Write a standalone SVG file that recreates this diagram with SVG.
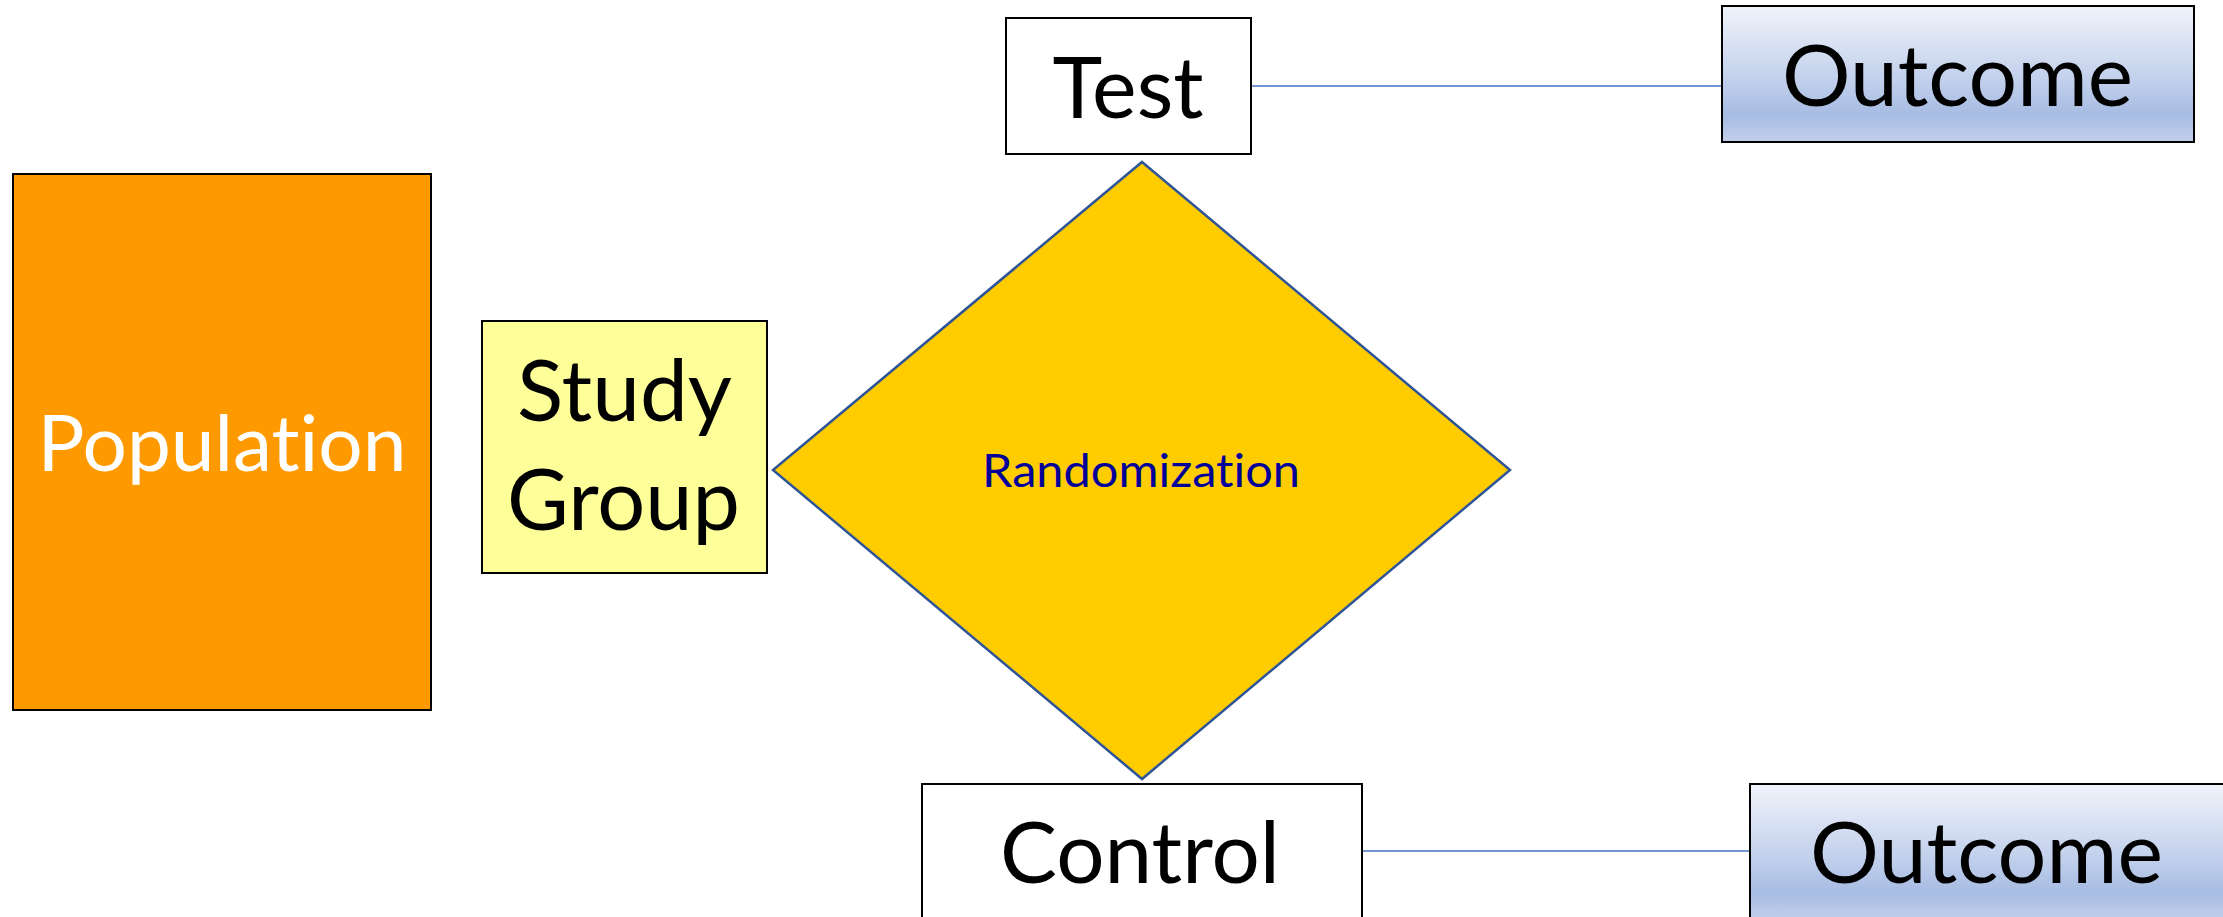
<svg xmlns="http://www.w3.org/2000/svg" width="2223" height="917" viewBox="0 0 2223 917">
  <defs>
    <linearGradient id="outcomeGrad" x1="0" y1="0" x2="0" y2="1">
      <stop offset="0" stop-color="#F0F3FA"/>
      <stop offset="0.5" stop-color="#C6D3ED"/>
      <stop offset="0.8" stop-color="#A7BCE3"/>
      <stop offset="1" stop-color="#C1CFEB"/>
    </linearGradient>
    <style>
      .box { stroke: #000000; stroke-width: 2; }
      .lbl { font-family: Lato, "Open Sans", "Liberation Sans", sans-serif; font-size: 86px; fill: #000000; text-anchor: middle; font-variant-ligatures: none; font-feature-settings: "liga" 0, "clig" 0; }
      .conn { stroke: #4472C4; stroke-width: 1.5; fill: none; }
    </style>
  </defs>
  <rect width="2223" height="917" fill="#FFFFFF"/>
  <g id="connectors">
    <line class="conn" x1="1251" y1="86" x2="1722" y2="86"/>
    <line class="conn" x1="1362" y1="851" x2="1750" y2="851"/>
  </g>
  <g id="population">
    <rect class="box" x="13" y="174" width="418" height="536" fill="#FF9900"/>
    <text class="lbl" x="222" y="471" style="fill:#FFFFFF;font-size:78px" textLength="369" lengthAdjust="spacingAndGlyphs">Population</text>
  </g>
  <g id="study-group">
    <rect class="box" x="482" y="321" width="285" height="252" fill="#FFFF99"/>
    <text class="lbl" x="624.5" y="421" textLength="215" lengthAdjust="spacingAndGlyphs">Study</text>
    <text class="lbl" x="623.5" y="530" textLength="233" lengthAdjust="spacingAndGlyphs">Group</text>
  </g>
  <g id="randomization">
    <polygon points="1142,162 1510,470 1142,779 773,470" fill="#FFCC00" stroke="#2F5597" stroke-width="2.5" stroke-linejoin="miter"/>
    <text class="lbl" x="1141" y="487" style="fill:#000099;font-size:46px" textLength="318" lengthAdjust="spacingAndGlyphs">Randomization</text>
  </g>
  <g id="test">
    <rect class="box" x="1006" y="18" width="245" height="136" fill="#FFFFFF"/>
    <text class="lbl" x="1128" y="118" textLength="151" lengthAdjust="spacingAndGlyphs">Test</text>
  </g>
  <g id="outcome-test">
    <rect class="box" x="1722" y="6" width="472" height="136" fill="url(#outcomeGrad)"/>
    <text class="lbl" x="1957.5" y="106" textLength="351" lengthAdjust="spacingAndGlyphs">Outcome</text>
  </g>
  <g id="control">
    <rect class="box" x="922" y="784" width="440" height="160" fill="#FFFFFF"/>
    <text class="lbl" x="1140" y="883" textLength="280" lengthAdjust="spacingAndGlyphs">Control</text>
  </g>
  <g id="outcome-control">
    <rect class="box" x="1750" y="784" width="500" height="136" fill="url(#outcomeGrad)"/>
    <text class="lbl" x="1986.5" y="883" textLength="353" lengthAdjust="spacingAndGlyphs">Outcome</text>
  </g>
</svg>
